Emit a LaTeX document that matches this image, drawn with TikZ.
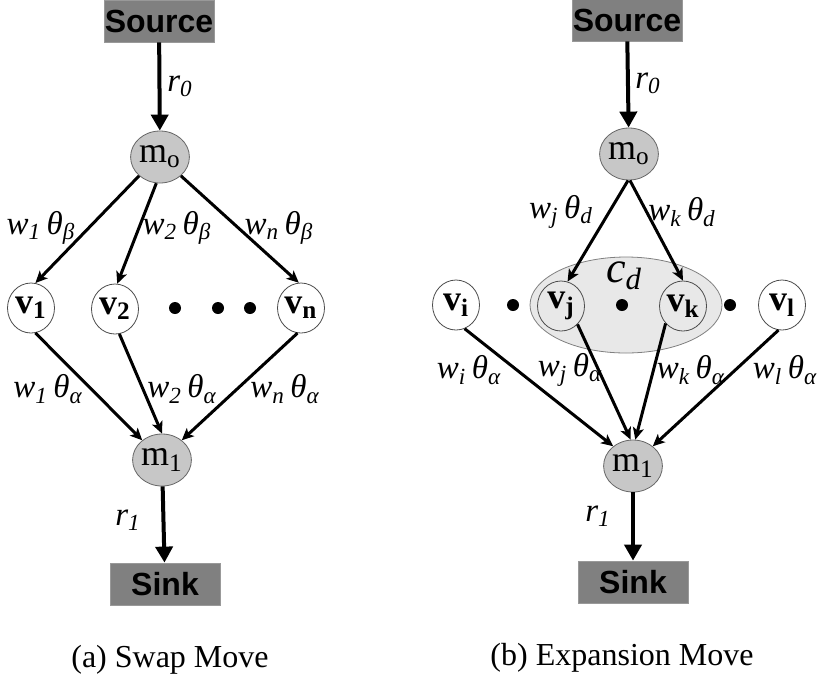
\documentclass[tikz,border=0pt]{standalone}
\usepackage{fontspec}
\setmainfont{Liberation Serif}
\newfontfamily\boxfont{Liberation Sans}
\usetikzlibrary{arrows.meta,shapes.geometric}
\newcommand{\wt}[2]{\textit{w\textsubscript{#1}\,θ\textsubscript{#2}}}

\begin{document}
\begin{tikzpicture}[x=0.5pt,y=-0.5pt]
\tikzstyle{every node}+=[inner sep=0pt]
\tikzstyle{terminal}=[fill=black!50,draw=black!40,minimum width=55pt,minimum height=21pt,font=\boxfont\bfseries\fontsize{16}{18}\selectfont]
\tikzstyle{mnode}=[ellipse,draw=black!60,fill=black!22,minimum width=28pt,minimum height=26pt,font=\fontsize{18}{20}\selectfont]
\tikzstyle{vnode}=[ellipse,draw=black!70,fill=white,minimum width=23.5pt,minimum height=25pt,font=\bfseries\fontsize{18}{20}\selectfont]
\tikzstyle{flow}=[line width=2pt,-{Triangle[width=8.5pt,length=8pt]}]
\tikzstyle{edge}=[line width=1.5pt,-{Stealth[width=5.5pt,length=6pt,inset=1.5pt]}]
\tikzstyle{lab}=[font=\fontsize{16.5}{19}\selectfont]
\useasboundingbox (0,0) rectangle (817,681);
% (a) swap move
\node[terminal] (srcA) at (159,21) {Source};
\node[mnode] (moA) at (160,157) {m\textsubscript{o}};
\node[vnode] (v1) at (31,308) {v\textsubscript{1}};
\node[vnode] (v2) at (115,309) {v\textsubscript{2}};
\node[vnode] (vn) at (301,308) {v\textsubscript{n}};
\node[mnode] (m1A) at (162,460) {m\textsubscript{1}};
\node[terminal] (sinkA) at (165,584) {Sink};
\fill (175,308) circle (6) (218,308) circle (6) (250,308) circle (6);
\draw[flow] (srcA) -- (moA);
\draw[edge] (moA.222) -- (v1.80);
\draw[edge] (moA.262) -- (v2.85);
\draw[edge] (moA.318) -- (vn.95);
\draw[edge] (v1.280) -- (m1A.135);
\draw[edge] (v2.280) -- (m1A.north);
\draw[edge] (vn.262) -- (m1A.45);
\draw[flow] (m1A) -- (sinkA);
\node[lab] (r0A) at (180,86) {\textit{r\textsubscript{0}}};
\node[lab] (b1) at (41,228) {\wt{1}{β}};
\node[lab] (b2) at (177,228) {\wt{2}{β}};
\node[lab] (bn) at (279,228) {\wt{n}{β}};
\node[lab] (a1) at (48,389) {\wt{1}{α}};
\node[lab] (a2) at (182,389) {\wt{2}{α}};
\node[lab] (an) at (285,389) {\wt{n}{α}};
\node[lab] (r1A) at (128,520) {\textit{r\textsubscript{1}}};
\node[font=\fontsize{16}{19}\selectfont] (capA) at (170,660) {(a) Swap Move};
% (b) expansion move
\node[terminal] (srcB) at (627,20) {Source};
\node[mnode] (moB) at (629,154) {m\textsubscript{o}};
\node[ellipse,draw=black!50,fill=black!9,minimum width=96pt,minimum height=48pt] (cd) at (626,305) {};
\node[vnode] (vi) at (456,305) {v\textsubscript{i}};
\node[vnode,fill=black!9] (vj) at (561,306) {v\textsubscript{j}};
\node[vnode,fill=black!9] (vk) at (683,306) {v\textsubscript{k}};
\node[vnode] (vl) at (782,305) {v\textsubscript{l}};
\node[mnode] (m1B) at (633,466) {m\textsubscript{1}};
\node[terminal] (sinkB) at (633,582) {Sink};
\fill (513,305) circle (6) (622,305) circle (6) (730,305) circle (6);
\draw[flow] (srcB) -- (moB);
\draw[edge] (moB.268) -- (vj.75);
\draw[edge] (moB.272) -- (vk.north);
\draw[edge] (vi.290) -- (m1B.135);
\draw[edge] (vj.312) -- (m1B.95);
\draw[edge] (vk.225) -- (m1B.85);
\draw[edge] (vl.262) -- (m1B.45);
\draw[flow] (m1B) -- (sinkB);
\node[lab] (r0B) at (648,83) {\textit{r\textsubscript{0}}};
\node[lab] (dj) at (561,212) {\wt{j}{d}};
\node[lab] (dk) at (682,212) {\wt{k}{d}};
\node[font=\itshape\fontsize{22}{24}\selectfont] (cdl) at (624,276) {c\textsubscript{d}};
\node[lab] (ai) at (469,370) {\wt{i}{α}};
\node[lab] (aj) at (570,370) {\wt{j}{α}};
\node[lab] (ak) at (691,370) {\wt{k}{α}};
\node[lab] (al) at (785,370) {\wt{l}{α}};
\node[lab] (r1B) at (598,516) {\textit{r\textsubscript{1}}};
\node[font=\fontsize{16}{19}\selectfont] (capB) at (622,658) {(b) Expansion Move};
\end{tikzpicture}
\end{document}
